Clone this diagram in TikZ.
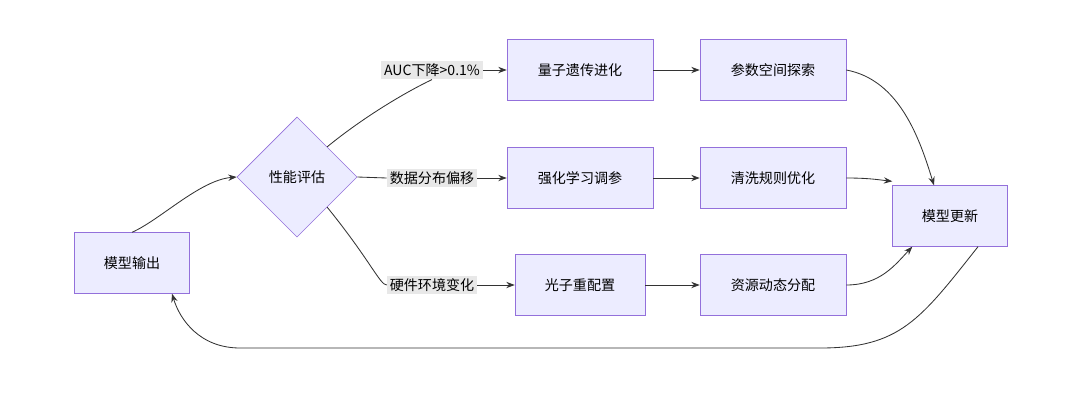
\documentclass[tikz,border=0pt]{standalone}
\usepackage{fontspec}
\setmainfont{Noto Sans CJK SC}
\usetikzlibrary{shapes.geometric,arrows.meta}
\definecolor{boxfill}{HTML}{ECECFF}
\definecolor{boxline}{HTML}{9370DB}
\definecolor{edgegray}{HTML}{333333}
\definecolor{labelbg}{HTML}{E8E8E8}
\tikzset{
  box/.style={draw=boxline, fill=boxfill, minimum width=3.65cm, minimum height=1.52cm, font=\fontsize{10}{12}\selectfont},
  decide/.style={draw=boxline, fill=boxfill, diamond, minimum width=3cm, minimum height=3cm, inner sep=0pt, font=\fontsize{10}{12}\selectfont},
  cond/.style={fill=labelbg, inner sep=2pt, font=\fontsize{10}{12}\selectfont},
  flow/.style={draw=edgegray, -{Stealth[length=6pt]}, line width=0.6pt},
}
\begin{document}
\begin{tikzpicture}[x=0.025cm, y=-0.025cm]
\useasboundingbox (0,0) rectangle (1080,402);

% nodes
\node[box, minimum width=2.87cm] (out) at (132,263) {模型输出};
\node[decide] (eval) at (297,177) {性能评估};
\node[cond] (c1) at (432,70) {AUC下降>0.1\%};
\node[cond] (c2) at (432,178) {数据分布偏移};
\node[cond] (c3) at (432,285) {硬件环境变化};
\node[box] (qga) at (580,70) {量子遗传进化};
\node[box] (rl) at (580,178) {强化学习调参};
\node[box, minimum width=3.25cm] (photon) at (580,285) {光子重配置};
\node[box] (space) at (773,70) {参数空间探索};
\node[box] (clean) at (773,178) {清洗规则优化};
\node[box] (alloc) at (773,285) {资源动态分配};
\node[box, minimum width=2.87cm] (upd) at (950,216) {模型更新};

% edges
\draw[flow] (out.north) .. controls (160,220) and (200,180) .. (eval.west);
\draw[draw=edgegray, line width=0.6pt] (eval.north east) .. controls (360,120) and (400,95) .. (c1.south);
\draw[draw=edgegray, line width=0.6pt] (eval.east) -- (c2.west);
\draw[draw=edgegray, line width=0.6pt] (eval.south east) .. controls (370,260) and (380,285) .. (c3.west);
\draw[flow] (c1.east) -- (qga.west);
\draw[flow] (c2.east) -- (rl.west);
\draw[flow] (c3.east) -- (photon.west);
\draw[flow] (qga) -- (space);
\draw[flow] (rl) -- (clean);
\draw[flow] (photon) -- (alloc);
\draw[flow] (space.east) .. controls (900,80) and (920,140) .. ([xshift=-0.4cm]upd.north);
\draw[flow] (clean.east) .. controls (870,178) and (880,180) .. ([yshift=0.1cm]upd.north west);
\draw[flow] (alloc.east) .. controls (880,285) and (895,265) .. ([xshift=0.5cm]upd.south west);
\draw[flow] ([xshift=0.7cm]upd.south) .. controls (920,320) and (900,348) .. (820,348)
  -- (240,348) .. controls (200,348) and (180,320) .. ([xshift=1cm]out.south);
\end{tikzpicture}
\end{document}
